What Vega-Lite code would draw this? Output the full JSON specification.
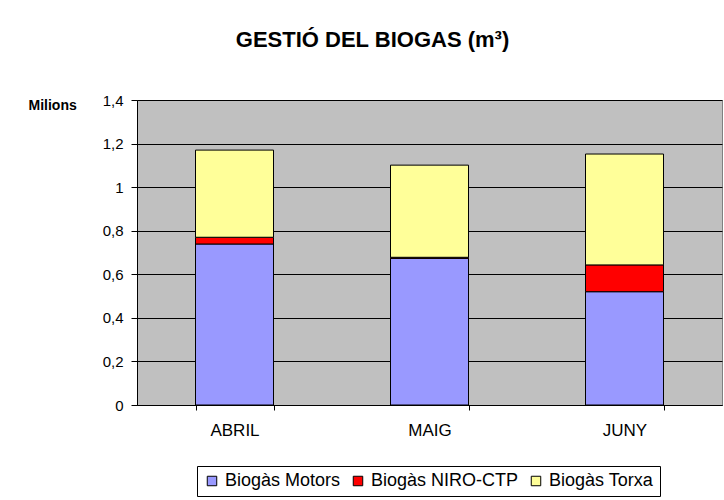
{
  "$schema": "https://vega.github.io/schema/vega-lite/v6.json",
  "autosize": "none",
  "width": 585,
  "height": 305,
  "padding": {"left": 137, "top": 100, "right": 2, "bottom": 95},
  "background": "white",
  "title": {
    "text": "GESTIÓ DEL BIOGAS (m³)",
    "font": "Liberation Sans",
    "fontSize": 22,
    "fontWeight": "bold",
    "color": "black",
    "anchor": "middle",
    "baseline": "alphabetic",
    "offset": 24,
    "dx": -57
  },
  "data": {
    "values": [
      {"mes": "ABRIL", "serie": "Biogàs Motors", "ordre": 1, "valor": 0.739},
      {"mes": "ABRIL", "serie": "Biogàs NIRO-CTP", "ordre": 2, "valor": 0.031},
      {"mes": "ABRIL", "serie": "Biogàs Torxa", "ordre": 3, "valor": 0.400},
      {"mes": "MAIG", "serie": "Biogàs Motors", "ordre": 1, "valor": 0.673},
      {"mes": "MAIG", "serie": "Biogàs NIRO-CTP", "ordre": 2, "valor": 0.005},
      {"mes": "MAIG", "serie": "Biogàs Torxa", "ordre": 3, "valor": 0.423},
      {"mes": "JUNY", "serie": "Biogàs Motors", "ordre": 1, "valor": 0.520},
      {"mes": "JUNY", "serie": "Biogàs NIRO-CTP", "ordre": 2, "valor": 0.123},
      {"mes": "JUNY", "serie": "Biogàs Torxa", "ordre": 3, "valor": 0.509}
    ]
  },
  "mark": {"type": "bar", "stroke": "black", "strokeWidth": 1},
  "encoding": {
    "x": {
      "field": "mes",
      "type": "nominal",
      "sort": ["ABRIL", "MAIG", "JUNY"],
      "scale": {"paddingInner": 0.6, "paddingOuter": 0.3},
      "axis": {
        "title": null,
        "labelAngle": 0,
        "labelFont": "Liberation Sans",
        "labelFontSize": 17,
        "labelColor": "black",
        "labelPadding": 12,
        "tickBand": "extent",
        "tickSize": 5,
        "tickColor": "black",
        "domainColor": "black",
        "grid": false
      }
    },
    "y": {
      "field": "valor",
      "type": "quantitative",
      "stack": "zero",
      "scale": {"domain": [0, 1.4], "nice": false},
      "axis": {
        "title": "Milions",
        "titleFont": "Liberation Sans",
        "titleFontSize": 14,
        "titleFontWeight": "bold",
        "titleColor": "black",
        "titleAngle": 0,
        "titleAlign": "left",
        "titleBaseline": "alphabetic",
        "titleX": -109,
        "titleY": 9,
        "values": [0, 0.2, 0.4, 0.6, 0.8, 1, 1.2, 1.4],
        "labelExpr": "replace(format(datum.value, '~g'), '.', ',')",
        "labelFont": "Liberation Sans",
        "labelFontSize": 15,
        "labelColor": "black",
        "labelPadding": 8,
        "tickSize": 6,
        "tickColor": "black",
        "domainColor": "black",
        "gridColor": "black",
        "gridWidth": 1
      }
    },
    "color": {
      "field": "serie",
      "type": "nominal",
      "scale": {
        "domain": ["Biogàs Motors", "Biogàs NIRO-CTP", "Biogàs Torxa"],
        "range": ["#9999FF", "#FF0000", "#FFFF99"]
      },
      "legend": {
        "title": null,
        "orient": "none",
        "direction": "horizontal",
        "legendX": 60,
        "legendY": 366,
        "strokeColor": "black",
        "fillColor": "white",
        "padding": 6,
        "symbolType": "square",
        "symbolSize": 90,
        "symbolStrokeColor": "black",
        "symbolStrokeWidth": 1,
        "symbolOpacity": 1,
        "labelFont": "Liberation Sans",
        "labelFontSize": 18,
        "labelColor": "black",
        "labelOffset": 4,
        "columnPadding": 8
      }
    },
    "order": {"field": "ordre", "type": "quantitative"}
  },
  "config": {
    "view": {"fill": "#C0C0C0", "stroke": "#808080"},
    "axis": {"domainWidth": 1, "tickWidth": 1}
  }
}
